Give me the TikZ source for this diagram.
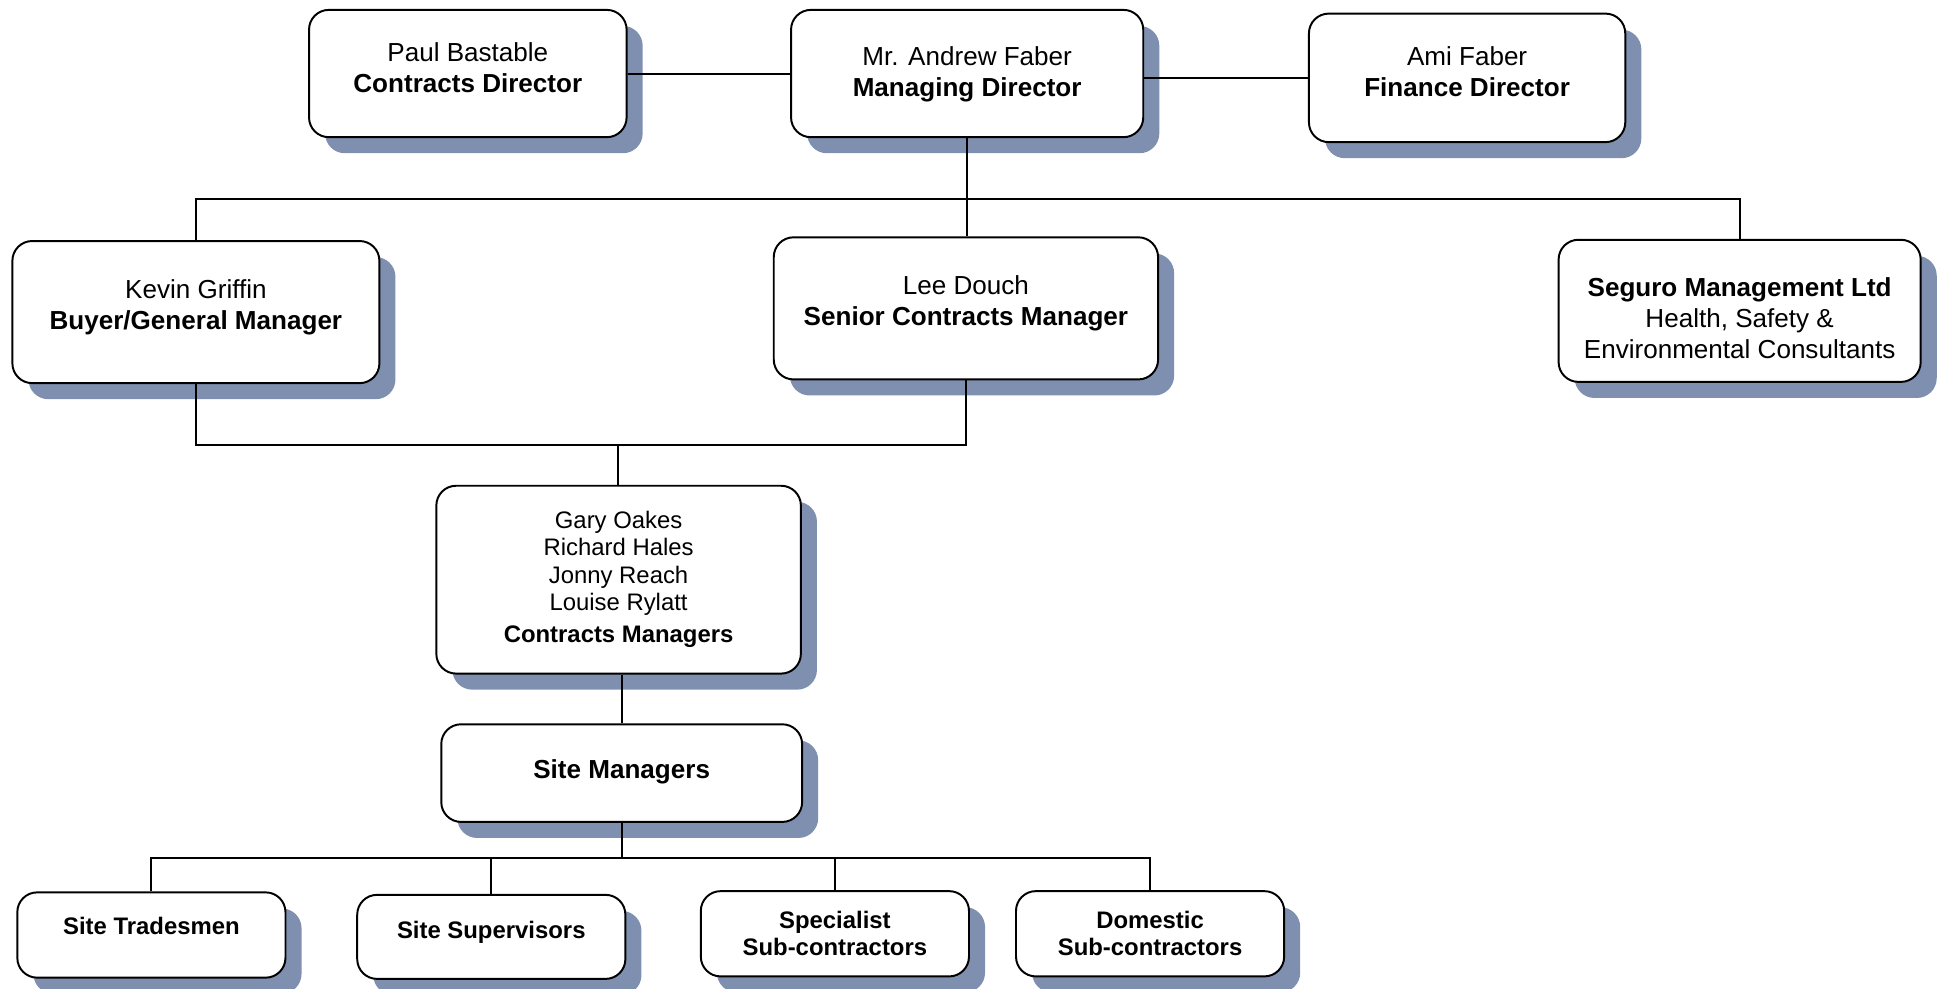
\documentclass[tikz,border=0pt]{standalone}
\usepackage{fontspec}
\setmainfont{Liberation Sans}
\usetikzlibrary{shadows}
\definecolor{shadowblue}{HTML}{7F8FB0}
\newcommand{\boxtext}[2][-0.1cm]{\raisebox{#1}[0pt][0pt]{\begin{tabular}[c]{@{}c@{}}#2\end{tabular}}}
\tikzset{
  orgbox/.style={draw, line width=0.9pt, rounded corners=0.32cm, fill=white, inner sep=2pt,
    font=\fontsize{12}{14.2}\selectfont,
    drop shadow={shadow xshift=0.26cm, shadow yshift=-0.26cm, fill=shadowblue, opacity=1}},
  smallbox/.style={orgbox, font=\fontsize{11}{12.7}\selectfont},
  leafbox/.style={smallbox, minimum width=4.34cm, minimum height=1.38cm},
  link/.style={line width=0.9pt}
}
\begin{document}
\begin{tikzpicture}[x=0.02cm, y=-0.02cm]
  \useasboundingbox (0,0) rectangle (1568,800);

  \node[orgbox, minimum width=5.14cm, minimum height=2.06cm] (paul) at (378.5,59.5) {\boxtext[-0.06cm]{Paul Bastable\\\textbf{Contracts Director}}};
  \node[orgbox, minimum width=5.7cm, minimum height=2.06cm] (md) at (782.5,59.5) {\boxtext[-0.12cm]{Mr. Andrew Faber\\\textbf{Managing Director}}};
  \node[orgbox, minimum width=5.12cm, minimum height=2.08cm] (ami) at (1187,63) {\boxtext[-0.06cm]{Ami Faber\\\textbf{Finance Director}}};

  \node[orgbox, minimum width=5.94cm, minimum height=2.3cm] (kevin) at (158.5,252.5) {\boxtext[-0.03cm]{Kevin Griffin\\\textbf{Buyer/General Manager}}};
  \node[orgbox, minimum width=6.22cm, minimum height=2.3cm] (lee) at (781.5,249.5) {\boxtext[-0.03cm]{Lee Douch\\\textbf{Senior Contracts Manager}}};
  \node[orgbox, minimum width=5.86cm, minimum height=2.3cm] (seguro) at (1407.5,251.5) {\boxtext[-0.28cm]{\textbf{Seguro Management Ltd}\\Health, Safety \&\\Environmental Consultants}};

  \node[smallbox, minimum width=5.9cm, minimum height=3.04cm] (cm) at (500.5,469) {\boxtext{Gary Oakes\\Richard Hales\\Jonny Reach\\Louise Rylatt\\[2pt]\textbf{Contracts Managers}}};
  \node[orgbox, minimum width=5.84cm, minimum height=1.58cm] (sm) at (503,625.5) {\boxtext[-0.09cm]{\textbf{Site Managers}}};

  \node[leafbox] (trades) at (122.5,756.5) {\boxtext[0cm]{\textbf{Site Tradesmen}}};
  \node[leafbox, minimum height=1.36cm] (superv) at (397.5,758) {\boxtext[-0.03cm]{\textbf{Site Supervisors}}};
  \node[leafbox] (special) at (675.5,755.5) {\boxtext[-0.14cm]{\textbf{Specialist}\\\textbf{Sub-contractors}}};
  \node[leafbox] (domestic) at (930.5,755.5) {\boxtext[-0.14cm]{\textbf{Domestic}\\\textbf{Sub-contractors}}};

  \coordinate (bustop) at (782,161);
  \coordinate (join) at (500,360);
  \coordinate (busbottom) at (503,694);

  \draw[link] (paul.east) -- (md.west);
  \draw[link] (ami.west) -- (ami.west -| md.east);
  \draw[link] (md.south) -- (md.south |- lee.north);
  \draw[link] (kevin.north) -- (kevin.north |- bustop) -- (seguro.north |- bustop) -- (seguro.north);

  \draw[link] (kevin.south) |- (join);
  \draw[link] (lee.south) |- (join);
  \draw[link] (join) -- (join |- cm.north);
  \draw[link] (sm.north) -- (sm.north |- cm.south);

  \draw[link] (sm.south) -- (busbottom);
  \draw[link] (trades.north) -- (trades.north |- busbottom) -- (domestic.north |- busbottom) -- (domestic.north);
  \foreach \leaf in {superv, special}
    \draw[link] (\leaf.north) -- (\leaf.north |- busbottom);
\end{tikzpicture}
\end{document}
